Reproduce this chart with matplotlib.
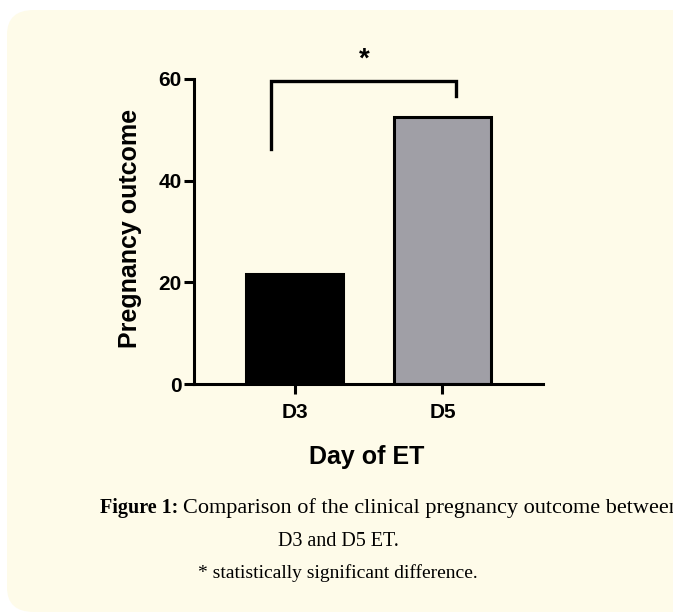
import matplotlib
matplotlib.use('Agg')
import matplotlib.pyplot as plt
from matplotlib.patches import FancyBboxPatch

# Data
categories = ['D3', 'D5']
outcome = [21.7, 52.6]
bar_colors = ['#000000', '#a09fa6']
y_ticks = [0, 20, 40, 60]

# significance bracket (x in bar units, y in data units)
bracket_x = [-0.16, -0.16, 1.09, 1.09]
bracket_y = [46.3, 59.6, 59.6, 56.7]

W, H = 673, 616
fig = plt.figure(figsize=(W / 100, H / 100), dpi=100)
fig.patch.set_facecolor('white')

# cream rounded panel behind everything
panel = FancyBboxPatch((7 / W, 4 / H), 700 / W, 602 / H,
                       boxstyle='round,pad=0,rounding_size=0.04',
                       transform=fig.transFigure, facecolor='#fefbe9',
                       edgecolor='none', zorder=-5)
fig.patches.append(panel)

ax = fig.add_axes([194 / W, 1 - 384 / H, (543 - 194) / W, (384 - 79) / H])
ax.set_facecolor('none')
ax.set_zorder(2)

x = list(range(len(categories)))
ax.bar(x, outcome, width=0.66, color=bar_colors, edgecolor='black',
       linewidth=2.2, zorder=2)

ax.set_xlim(-0.68, 1.68)
ax.set_ylim(0, 60)
ax.set_yticks(y_ticks)
ax.set_xticks(x)
ax.set_xticklabels(categories)

for side in ['top', 'right']:
    ax.spines[side].set_visible(False)
for side in ['left', 'bottom']:
    ax.spines[side].set_linewidth(2.2)

ax.tick_params(width=2.2, length=7, labelsize=15)
ax.tick_params(axis='y', pad=2)
ax.tick_params(axis='x', pad=7)
for lab in ax.get_xticklabels() + ax.get_yticklabels():
    lab.set_fontweight('bold')
    lab.set_fontfamily('Liberation Sans')

ax.plot(bracket_x, bracket_y, color='black', linewidth=2.4,
        solid_joinstyle='miter', clip_on=False, zorder=3)
ax.text(0.47, 63.8, '*', ha='center', va='center', fontsize=20,
        fontweight='bold', fontfamily='Liberation Sans', clip_on=False)

fig.text(130 / W, 1 - 228 / H, 'Pregnancy outcome', rotation=90,
         ha='center', va='center', fontsize=18, fontweight='bold',
         fontfamily='Liberation Sans')
fig.text(367 / W, 1 - 457 / H, 'Day of ET', ha='center', va='center',
         fontsize=18, fontweight='bold', fontfamily='Liberation Sans')

# caption (the reference crops the first line at the right edge)
t1 = fig.text(100 / W, 1 - 508 / H, 'Figure 1:', ha='left', va='center',
              fontsize=14.5, fontweight='bold', fontfamily='Liberation Serif')
fig.canvas.draw()
bb = t1.get_window_extent()
fig.text((bb.x1 + 5) / W, 1 - 508 / H,
         'Comparison of the clinical pregnancy outcome between',
         ha='left', va='center', fontsize=16, fontfamily='Liberation Serif')
fig.text(338 / W, 1 - 541 / H, 'D3 and D5 ET.', ha='center', va='center',
         fontsize=14.5, fontfamily='Liberation Serif')
fig.text(338 / W, 1 - 573 / H, '* statistically significant difference.',
         ha='center', va='center', fontsize=14, fontfamily='Liberation Serif')

fig.savefig('out.png', dpi=100)
